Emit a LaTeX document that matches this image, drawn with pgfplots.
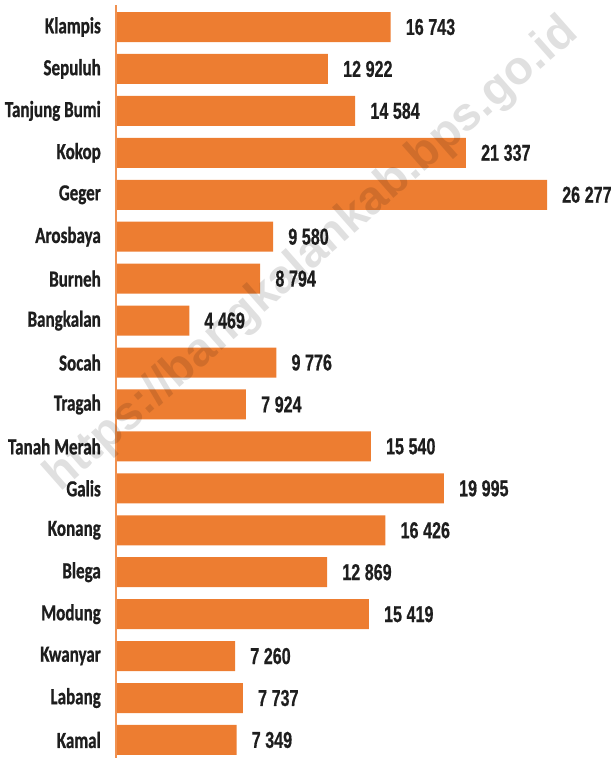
\documentclass[border=0pt]{standalone}
\usepackage{pgfplots}
\pgfplotsset{compat=1.18}
\usepackage{fontspec}
\setmainfont{Carlito}
\newfontfamily\catfont{Carlito}[FakeStretch=0.74, FakeBold=0.8]
\newfontfamily\valfont{Liberation Sans}[FakeStretch=0.70, FakeBold=0.6]
\newfontfamily\wmfont{Liberation Sans}
\definecolor{barorange}{HTML}{ED7D31}
\definecolor{labelc}{HTML}{1E1E1E}
\begin{document}
\begin{tikzpicture}
\begin{axis}[
  xbar,
  scale only axis,
  width=499pt, height=753pt,
  xmin=0, xmax=30423,
  ymin=-0.525, ymax=17.43,
  y dir=reverse,
  axis x line=none,
  axis y line*=left,
  axis line style={draw=none},
  ytick={0,...,17},
  yticklabels={Klampis,Sepuluh,Tanjung Bumi,Kokop,Geger,Arosbaya,Burneh,Bangkalan,Socah,Tragah,Tanah Merah,Galis,Konang,Blega,Modung,Kwanyar,Labang,{Kamal\hspace{3pt}}},
  major tick length=0pt,
  yticklabel style={font=\catfont\bfseries\fontsize{23}{23}\selectfont, text=labelc, inner sep=0pt, xshift=-15pt},
  bar width=30pt,
  clip=false,
  nodes near coords,
  every node near coord/.append style={font=\valfont\bfseries\fontsize{23}{23}\selectfont, text=labelc, anchor=west, inner sep=0pt, xshift=15pt},
  /pgf/number format/.cd, fixed, precision=0, 1000 sep={\hspace{0.2em}}, assume math mode=true,
]
\addplot[fill=barorange, draw=none] coordinates {
(16743,0) (12922,1) (14584,2) (21337,3) (26277,4) (9580,5) (8794,6) (4469,7) (9776,8)
(7924,9) (15540,10) (19995,11) (16426,12) (12869,13) (15419,14) (7260,15) (7737,16) (7349,17)
};
\draw[barorange!85, line width=1.2pt] (rel axis cs:0,0) -- (rel axis cs:0,1);
\end{axis}
\node[rotate=41.4, font=\wmfont\bfseries\fontsize{47}{47}\selectfont, text=black, opacity=0.12] at (196pt,503pt) {https://bangkalankab.bps.go.id};
\pgfresetboundingbox
\path[use as bounding box] (-116pt,0pt) rectangle (499pt,758pt);
\end{tikzpicture}
\end{document}
